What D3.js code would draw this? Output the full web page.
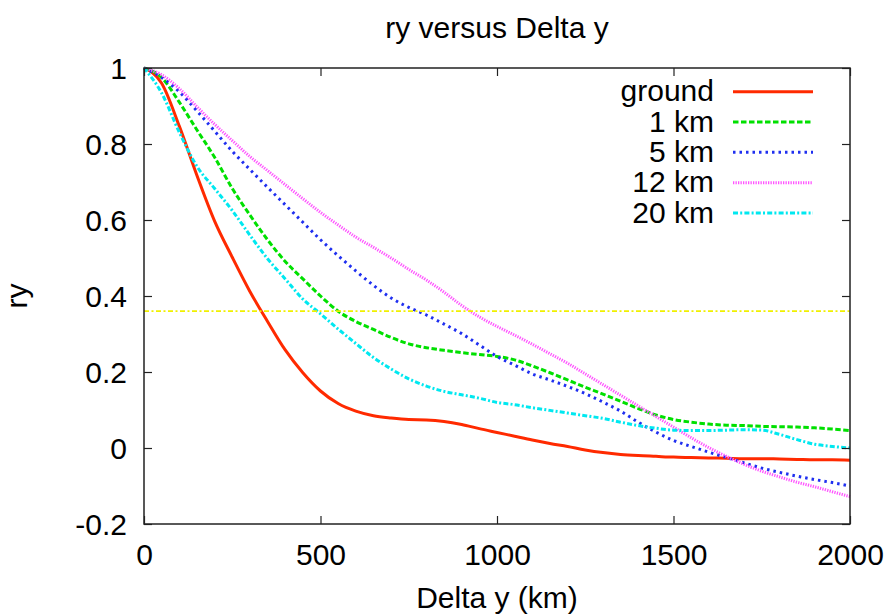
<!DOCTYPE html>
<html>
<head>
<meta charset="utf-8">
<script src="https://cdn.jsdelivr.net/npm/d3@7"></script>
<style>
  html, body { margin: 0; padding: 0; background: #fff; }
  svg text { font-family: "Liberation Sans", Arial, Helvetica, sans-serif; fill: #000; }
</style>
</head>
<body>
<svg id="chart" width="892" height="616"></svg>
<script>
// ---- data ----
const deltaY = [0,50,100,150,200,250,300,350,400,450,500,550,600,650,700,750,800,850,900,950,
  1000,1050,1100,1150,1200,1250,1300,1350,1400,1450,1500,1550,1600,1650,1700,1750,1800,1850,1900,1950,2000];

const ground = [1.0,0.96,0.847,0.717,0.597,0.502,0.412,0.333,0.258,0.198,0.150,0.117,0.097,0.085,0.079,0.075,0.074,0.070,0.062,0.051,
  0.041,0.031,0.021,0.012,0.004,-0.005,-0.012,-0.017,-0.020,-0.022,-0.024,-0.025,-0.026,-0.027,-0.028,-0.028,-0.029,-0.030,-0.031,-0.031,-0.032];

const km1 = [1.0,0.975,0.91,0.837,0.765,0.683,0.613,0.548,0.491,0.445,0.400,0.360,0.333,0.312,0.291,0.274,0.264,0.257,0.251,0.246,
  0.241,0.232,0.216,0.198,0.179,0.160,0.142,0.123,0.104,0.087,0.075,0.068,0.063,0.060,0.059,0.057,0.056,0.055,0.053,0.050,0.046];

const km5 = [1.0,0.975,0.937,0.887,0.834,0.781,0.733,0.686,0.640,0.594,0.548,0.506,0.466,0.428,0.395,0.370,0.350,0.326,0.301,0.271,
  0.241,0.218,0.195,0.179,0.162,0.143,0.121,0.097,0.068,0.042,0.020,0.004,-0.011,-0.025,-0.039,-0.053,-0.064,-0.074,-0.083,-0.091,-0.100];

const km12 = [1.0,0.982,0.946,0.898,0.852,0.809,0.767,0.730,0.693,0.656,0.620,0.587,0.555,0.528,0.500,0.470,0.442,0.410,0.375,0.345,
  0.320,0.297,0.273,0.248,0.223,0.195,0.167,0.139,0.111,0.083,0.055,0.027,0.001,-0.022,-0.043,-0.061,-0.076,-0.090,-0.102,-0.115,-0.128];

const km20 = [1.0,0.934,0.831,0.741,0.683,0.625,0.560,0.498,0.445,0.392,0.353,0.313,0.275,0.238,0.208,0.182,0.163,0.149,0.140,0.131,
  0.120,0.114,0.106,0.099,0.092,0.085,0.078,0.068,0.059,0.052,0.047,0.046,0.046,0.047,0.048,0.047,0.036,0.022,0.010,0.004,0.000];

const seriesNames = ["ground", "1 km", "5 km", "12 km", "20 km"];
const refLevel = 0.36;

const xTicks = [0, 500, 1000, 1500, 2000];
const xTickLabels = ["0", "500", "1000", "1500", "2000"];
const yTicks = [-0.2, 0, 0.2, 0.4, 0.6, 0.8, 1];
const yTickLabels = ["-0.2", "0", "0.2", "0.4", "0.6", "0.8", "1"];

const titleText = "ry versus Delta y";
const xLabel = "Delta y (km)";
const yLabel = "ry";

// ---- styles ----
const styles = [
  { color: "#ff2a00", dash: null,          width: 3 },
  { color: "#00e000", dash: "5.5,2.5",     width: 3 },
  { color: "#1f2ff0", dash: "2.5,4",       width: 3 },
  { color: "#ff55ff", dash: "1.3,1.2",     width: 3 },
  { color: "#00e8f0", dash: "5,2.2,2,2.2", width: 3 }
];

const svg = d3.select("#chart");
const W = 892, H = 616;
const m = { left: 144, right: 42, top: 68, bottom: 92 };
const x = d3.scaleLinear().domain([0, 2000]).range([m.left, W - m.right]);
const y = d3.scaleLinear().domain([-0.2, 1]).range([H - m.bottom, m.top]);

const FONT = 30;

const plot = svg.append("g");

const allSeries = [ground, km1, km5, km12, km20];
const line = d3.line().x(d => x(d[0])).y(d => y(d[1])).curve(d3.curveMonotoneX);

allSeries.forEach((vals, i) => {
  const pts = deltaY.map((d, j) => [d, vals[j]]);
  plot.append("path")
    .attr("d", line(pts))
    .attr("fill", "none")
    .attr("stroke", styles[i].color)
    .attr("stroke-width", styles[i].width)
    .attr("stroke-dasharray", styles[i].dash)
    .attr("stroke-linejoin", "round");
});

// reference line
plot.append("line")
  .attr("x1", x(0)).attr("x2", x(2000))
  .attr("y1", y(refLevel)).attr("y2", y(refLevel))
  .attr("stroke", "#f0f000").attr("stroke-width", 1.8)
  .attr("stroke-dasharray", "5,2.5,2,2.5");

// axes (inward ticks, mirrored)
const tickLen = 8;
const axB = svg.append("g").attr("transform", `translate(0,${y(-0.2)})`)
  .call(d3.axisBottom(x).tickValues(xTicks).tickSize(-tickLen).tickPadding(20)
    .tickFormat((d, i) => xTickLabels[i]));
const axT = svg.append("g").attr("transform", `translate(0,${y(1)})`)
  .call(d3.axisTop(x).tickValues(xTicks).tickSize(-tickLen).tickFormat(""));
const axL = svg.append("g").attr("transform", `translate(${x(0)},0)`)
  .call(d3.axisLeft(y).tickValues(yTicks).tickSize(-tickLen).tickPadding(17)
    .tickFormat((d, i) => yTickLabels[i]));
const axR = svg.append("g").attr("transform", `translate(${x(2000)},0)`)
  .call(d3.axisRight(y).tickValues(yTicks).tickSize(-tickLen).tickFormat(""));

[axB, axT, axL, axR].forEach(g => {
  g.select(".domain").remove();
  g.selectAll(".tick line").attr("stroke", "#222").attr("stroke-width", 1.2);
  g.selectAll(".tick text").attr("font-size", FONT)
    .attr("font-family", '"Liberation Sans", Arial, Helvetica, sans-serif').attr("fill", "#000");
});
axL.selectAll(".tick text").attr("dy", "0.36em");

// frame
svg.append("rect")
  .attr("x", x(0)).attr("y", y(1))
  .attr("width", x(2000) - x(0)).attr("height", y(-0.2) - y(1))
  .attr("fill", "none").attr("stroke", "#222").attr("stroke-width", 1.5);

// titles
svg.append("text").attr("x", (x(0) + x(2000)) / 2).attr("y", 38)
  .attr("text-anchor", "middle").attr("font-size", FONT).text(titleText);
svg.append("text").attr("x", (x(0) + x(2000)) / 2).attr("y", 608)
  .attr("text-anchor", "middle").attr("font-size", FONT).text(xLabel);
svg.append("text").attr("transform", `translate(27,${(y(1) + y(-0.2)) / 2}) rotate(-90)`)
  .attr("text-anchor", "middle").attr("font-size", FONT).text(yLabel);

// legend
const legRowY = [91.7, 122, 152.3, 182.7, 213];
const leg = svg.append("g");
seriesNames.forEach((name, i) => {
  leg.append("text").attr("x", 714).attr("y", legRowY[i] + 9.5)
    .attr("text-anchor", "end").attr("font-size", FONT).text(name);
  leg.append("line")
    .attr("x1", 733).attr("x2", 813)
    .attr("y1", legRowY[i]).attr("y2", legRowY[i])
    .attr("stroke", styles[i].color)
    .attr("stroke-width", styles[i].width)
    .attr("stroke-dasharray", styles[i].dash);
});
</script>
</body>
</html>
